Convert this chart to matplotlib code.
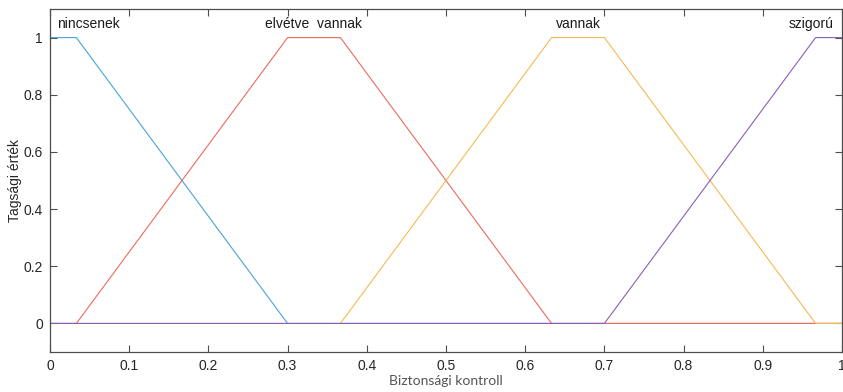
import matplotlib
matplotlib.use("Agg")
import matplotlib.pyplot as plt
import numpy as np

# trapezoid membership functions: a, b, c, d
mf_names = ["nincsenek", "elvétve  vannak", "vannak", "szigorú"]
mf_params = [
    [-0.3, 0.0, 0.0333, 0.3],
    [0.0333, 0.3, 0.3667, 0.6333],
    [0.3667, 0.6333, 0.7, 0.9667],
    [0.7, 0.9667, 1.0, 1.3],
]
label_x = [0.0, 0.333, 0.667, 0.961]
label_ha = ["left", "center", "center", "center"]
colors = ["#4aa3d8", "#ec6a5e", "#f3bb55", "#8a5fb5"]

x = np.linspace(0, 1, 2001)

def trapmf(x, p):
    a, b, c, d = p
    up = (x - a) / (b - a) if b != a else np.ones_like(x)
    down = (d - x) / (d - c) if d != c else np.ones_like(x)
    return np.clip(np.minimum(np.minimum(up, 1), down), 0, 1)

plt.rcParams['font.family'] = ['Liberation Sans', 'DejaVu Sans']
fig = plt.figure(figsize=(8.43, 3.92), dpi=100)
ax = fig.add_axes([0.0593, 0.102, 0.9395, 0.875])

for p, c in zip(mf_params, colors):
    ax.plot(x, trapmf(x, p), color=c, linewidth=0.8)

for name, lx, ha in zip(mf_names, label_x, label_ha):
    ax.text(lx + (0.009 if ha == "left" else 0), 1.022, name, ha=ha, va="bottom",
            fontsize=10, color="#1a1a1a")

ax.set_xlim(0, 1)
ax.set_ylim(-0.1, 1.1)
ax.set_xticks(np.arange(0, 1.01, 0.1))
ax.set_xticklabels(["0", "0.1", "0.2", "0.3", "0.4", "0.5", "0.6", "0.7", "0.8", "0.9", "1"])
ax.set_yticks(np.arange(0, 1.01, 0.2))
ax.set_yticklabels(["0", "0.2", "0.4", "0.6", "0.8", "1"])
ax.tick_params(direction="in", length=5, width=0.8, colors="#4d4d4d",
               labelcolor="#262626", labelsize=10, top=True, right=True, pad=5)
for s in ax.spines.values():
    s.set_color("#4d4d4d")
    s.set_linewidth(0.9)

ax.set_xlabel("Biztonsági kontroll", fontsize=10, color="#555555",
              family=["Lato", "DejaVu Sans"], labelpad=1.5)
ax.set_ylabel("Tagsági érték", fontsize=10, color="#262626", labelpad=1)

fig.savefig("out.png", dpi=100)
